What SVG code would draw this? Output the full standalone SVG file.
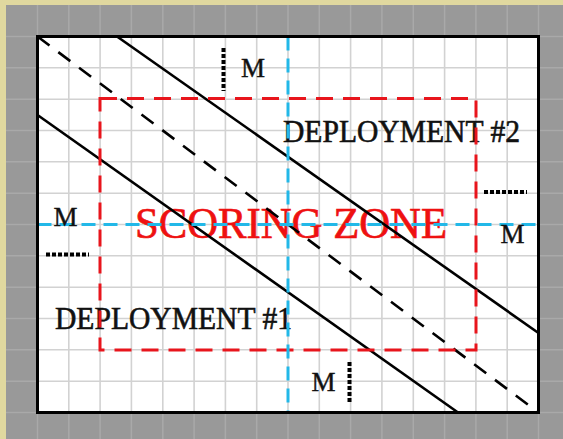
<svg xmlns="http://www.w3.org/2000/svg" width="563" height="439" viewBox="0 0 563 439">
<style>
.ggrid{stroke:#a9a9a9;stroke-width:1.5;fill:none}
.bgrid{stroke:#d2d2d2;stroke-width:1.6;fill:none}
.diag{stroke:#000;stroke-width:2.6;fill:none}
.ddash{stroke:#000;stroke-width:2.6;fill:none;stroke-dasharray:15 11}
.zone{stroke:#e8151c;stroke-width:3;fill:none;stroke-dasharray:17 10}
.axis{stroke:#22b8e8;stroke-width:3;fill:none;stroke-dasharray:14 8}
.dots{stroke:#000;stroke-width:4;fill:none;stroke-dasharray:4 2}
.lbl{font-family:"Liberation Serif","Times New Roman",serif;fill:#111;stroke:#111;stroke-width:0.6}
.m{font-family:"Liberation Serif","Times New Roman",serif;font-size:27px;fill:#111;stroke:#111;stroke-width:0.4;text-anchor:middle}
</style>
<rect x="0" y="0" width="563" height="439" fill="#e0d89f"/>
<rect x="6" y="5" width="557" height="434" fill="#999"/>
<g id="outer-grid" class="ggrid">
<path d="M37.5 5V439M68.8 5V439M100.1 5V439M131.4 5V439M162.8 5V439M194.1 5V439M225.4 5V439M256.7 5V439M288 5V439M319.3 5V439M350.6 5V439M381.9 5V439M413.3 5V439M444.6 5V439M475.9 5V439M507.2 5V439M538.5 5V439"/>
<path d="M6 36.5H563M6 67.8H563M6 99.2H563M6 130.5H563M6 161.8H563M6 193.2H563M6 224.5H563M6 255.8H563M6 287.2H563M6 318.5H563M6 349.8H563M6 381.2H563M6 412.5H563"/>
</g>
<g id="board">
<rect x="37.5" y="36.5" width="501" height="376" fill="#fff"/>
<g class="bgrid">
<path d="M68.8 36.5V412.5M100.1 36.5V412.5M131.4 36.5V412.5M162.8 36.5V412.5M194.1 36.5V412.5M225.4 36.5V412.5M256.7 36.5V412.5M288 36.5V412.5M319.3 36.5V412.5M350.6 36.5V412.5M381.9 36.5V412.5M413.3 36.5V412.5M444.6 36.5V412.5M475.9 36.5V412.5M507.2 36.5V412.5"/>
<path d="M37.5 67.8H538.5M37.5 99.2H538.5M37.5 130.5H538.5M37.5 161.8H538.5M37.5 193.2H538.5M37.5 224.5H538.5M37.5 255.8H538.5M37.5 287.2H538.5M37.5 318.5H538.5M37.5 349.8H538.5M37.5 381.2H538.5"/>
</g>
</g>
<g id="labels">
<text id="deploy2" class="lbl" x="283" y="142" font-size="31" textLength="237" lengthAdjust="spacingAndGlyphs">DEPLOYMENT #2</text>
<text id="deploy1" class="lbl" x="55" y="329" font-size="31" textLength="237" lengthAdjust="spacingAndGlyphs">DEPLOYMENT #1</text>
<text id="scoring" x="135" y="238" font-family="Liberation Serif, Times New Roman, serif" font-size="45" fill="#ee1111" stroke="#ee1111" stroke-width="0.7" textLength="312" lengthAdjust="spacingAndGlyphs">SCORING ZONE</text>
</g>
<g id="connectors">
<line class="diag" x1="117" y1="36.5" x2="538.5" y2="333"/>
<line class="diag" x1="37.5" y1="115" x2="458" y2="412.5"/>
<line class="ddash" x1="37.5" y1="36.5" x2="538.5" y2="412.5"/>
<rect class="zone" x="100" y="98.5" width="376" height="251.5"/>
<line class="axis" x1="288" y1="36.5" x2="288" y2="412.5"/>
<line class="axis" x1="37.5" y1="224.5" x2="538.5" y2="224.5"/>
</g>
<rect x="37.5" y="36.5" width="501" height="376" fill="none" stroke="#000" stroke-width="3"/>
<g id="marker-top">
<line class="dots" x1="223.5" y1="48" x2="223.5" y2="91"/>
<text class="m" x="253" y="77">M</text>
</g>
<g id="marker-left">
<line class="dots" x1="46" y1="254.5" x2="89" y2="254.5"/>
<text class="m" x="65.5" y="226">M</text>
</g>
<g id="marker-right">
<line class="dots" x1="484" y1="192" x2="527" y2="192"/>
<text class="m" x="512.5" y="243">M</text>
</g>
<g id="marker-bottom">
<line class="dots" x1="349.5" y1="362" x2="349.5" y2="404"/>
<text class="m" x="323.5" y="391">M</text>
</g>
</svg>
